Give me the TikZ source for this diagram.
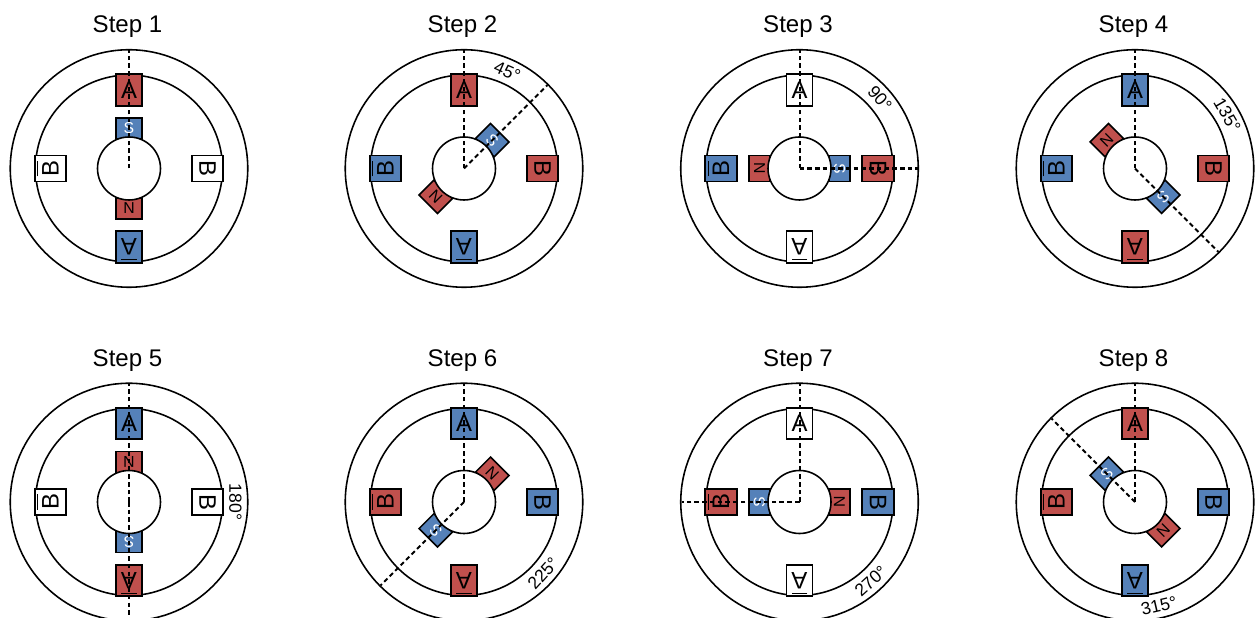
\documentclass[tikz,border=0pt]{standalone}
\usepackage{fontspec}
\setmainfont{Liberation Sans}
\definecolor{colorOn}{HTML}{C0504D}
\definecolor{colorOff}{HTML}{5581B9}
\colorlet{colorIdle}{white}
\usetikzlibrary{positioning}
\tikzset{
  ring/.style={circle, draw, line width=0.9pt, inner sep=0pt, outer sep=0pt},
  pole/.style={rectangle, draw, line width=0.9pt, inner sep=0pt, outer sep=0pt, minimum width=0.52cm, minimum height=0.63cm, font=\fontsize{13.6}{14}\selectfont},
  rotorpole/.style={rectangle, draw, line width=0.9pt, inner sep=0pt, outer sep=0pt, minimum width=0.52cm, minimum height=0.42cm, font=\fontsize{9}{10}\selectfont},
  steptitle/.style={font=\fontsize{13.7}{15}\selectfont, inner sep=0pt},
  anglelabel/.style={font=\fontsize{10}{11}\selectfont, inner sep=0pt},
  axis/.style={line width=1.15pt, dash pattern=on 2.6pt off 1.8pt}
}
\newsavebox{\polebox}
\newcommand{\polebar}[1]{\sbox{\polebox}{#1}\smash{\rlap{\rule[0.85em]{\wd\polebox}{0.6pt}}}\usebox{\polebox}}
\begin{document}
\begin{tikzpicture}
\useasboundingbox (0,0) rectangle (25.12,12.36);
\foreach \n/\cx/\cy/\colA/\colB/\colC/\colD in {
  1/2.58/8.99/colorOn/colorIdle/colorOff/colorIdle,
  2/9.28/8.99/colorOn/colorOn/colorOff/colorOff,
  3/15.99/8.99/colorIdle/colorOn/colorIdle/colorOff,
  4/22.70/8.99/colorOff/colorOn/colorOn/colorOff,
  5/2.58/2.32/colorOff/colorIdle/colorOn/colorIdle,
  6/9.28/2.32/colorOff/colorOff/colorOn/colorOn,
  7/15.99/2.32/colorIdle/colorOff/colorIdle/colorOn,
  8/22.70/2.32/colorOn/colorOff/colorOff/colorOn}
{
  \pgfmathsetmacro{\turn}{(\n-1)*45}
  \begin{scope}[shift={(\cx,\cy)}]
  \coordinate (c\n) at (0,0);
  \coordinate (top\n) at (0,2.36);
  \node[steptitle] (title\n) at (-0.03,2.83) {Step \n};
  \node[ring, minimum size=4.75cm] (stator\n) at (0,0) {};
  \node[ring, minimum size=3.74cm] (bore\n) at (0,0) {};
  \node[pole, fill=\colA] (A\n) at (0,1.57) {A};
  \node[pole, fill=\colB, rotate=-90] (B\n) at (1.57,0) {B};
  \node[pole, fill=\colC, rotate=180] (Abar\n) at (0,-1.57) {\polebar{A}};
  \node[pole, fill=\colD, rotate=90] (Bbar\n) at (-1.57,0) {\polebar{B}};
  \node[rotorpole, fill=colorOff, text=white, rotate=-\turn] (S\n) at ({90-\turn}:0.8) {S};
  \node[rotorpole, fill=colorOn, rotate=-\turn] (N\n) at ({270-\turn}:0.8) {N};
  \node[ring, fill=white, minimum size=1.26cm] (rotor\n) at (0,0) {};
  \end{scope}
  \draw[axis] (c\n) -- (top\n);
}
% angle marks, none on the first step
\foreach \n/\deg/\pol/\tilt in {2/45/66/-24, 3/90/41/-49, 4/135/30/-60, 5/180/0/-90, 6/225/-42/48, 7/270/-48/42, 8/315/-77/13}
{
  \pgfmathsetmacro{\turn}{90-\deg}
  \coordinate (tip\n) at ([shift={(\turn:2.36)}]c\n);
  \draw[axis] (c\n) -- (tip\n);
  \node[anglelabel, rotate=\tilt] (mark\n) at ([shift={(\pol:2.13)}]c\n) {\deg°};
}
\end{tikzpicture}
\end{document}
